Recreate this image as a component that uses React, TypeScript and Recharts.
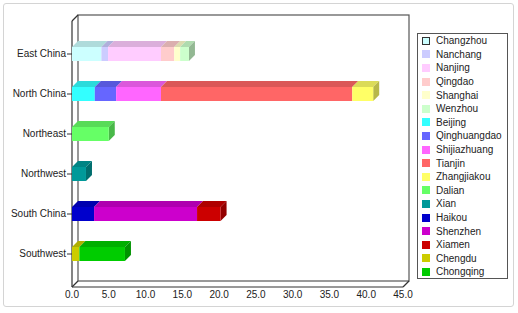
import React from 'react'
import { BarChart, Bar, XAxis, YAxis } from 'recharts'

const regions = ['East China', 'North China', 'Northeast', 'Northwest', 'South China', 'Southwest']

const cities = [
  'Changzhou', 'Nanchang', 'Nanjing', 'Qingdao', 'Shanghai', 'Wenzhou',
  'Beijing', 'Qinghuangdao', 'Shijiazhuang', 'Tianjin', 'Zhangjiakou',
  'Dalian', 'Xian', 'Haikou', 'Shenzhen', 'Xiamen', 'Chengdu', 'Chongqing',
]

// index into regions for each city
const cityRegion = [0, 0, 0, 0, 0, 0, 1, 1, 1, 1, 1, 2, 3, 4, 4, 4, 5, 5]

const cityValues = [4.0, 0.9, 7.2, 1.8, 0.8, 1.2, 3.1, 2.9, 6.1, 26.0, 2.85, 5.0, 1.9, 3.0, 14.0, 3.2, 1.0, 6.2]

const cityColors = [
  '#CCFFFF', '#CCCCFF', '#FFCCFF', '#FFCCCC', '#FFFFCC', '#CCFFCC',
  '#33FFFF', '#6666FF', '#FF66FF', '#FF6666', '#FFFF66',
  '#66FF66', '#009999', '#0000CC', '#CC00CC', '#CC0000', '#CCCC00', '#00CC00',
]

const xTicks = [0, 5, 10, 15, 20, 25, 30, 35, 40, 45]

const data = regions.map((region, ri) => {
  const row: Record<string, string | number> = { region }
  cities.forEach((c, ci) => {
    row[c] = cityRegion[ci] === ri ? cityValues[ci] : 0
  })
  return row
})

// last city of each region gets the visible right side face
const lastOfRegion = regions.map((_, ri) => {
  let last = -1
  cityRegion.forEach((r, ci) => { if (r === ri) last = ci })
  return last
})

const W = 518
const H = 313
const plotLeft = 72
const plotTop = 21
const plotRight = 403
const plotBottom = 287
const depth = 6
const font = '"Liberation Sans", Arial, sans-serif'

function shade(hex: string, k: number) {
  const n = parseInt(hex.slice(1), 16)
  const r = Math.round(((n >> 16) & 255) * k)
  const g = Math.round(((n >> 8) & 255) * k)
  const b = Math.round((n & 255) * k)
  return `rgb(${r},${g},${b})`
}

function make3D(color: string, withSide: boolean) {
  // eslint-disable-next-line @typescript-eslint/no-explicit-any
  return (props: any) => {
    const { x, y, width, height } = props
    if (!width || width <= 0.3) return <g />
    const d = depth
    return (
      <g>
        <polygon
          points={`${x},${y} ${x + d},${y - d} ${x + width + d},${y - d} ${x + width},${y}`}
          fill={shade(color, 0.86)}
        />
        {withSide && (
          <polygon
            points={`${x + width},${y} ${x + width + d},${y - d} ${x + width + d},${y + height - d} ${x + width},${y + height}`}
            fill={shade(color, 0.72)}
          />
        )}
        <rect x={x} y={y} width={width} height={height} fill={color} />
      </g>
    )
  }
}

// eslint-disable-next-line @typescript-eslint/no-explicit-any
function RegionTick(props: any) {
  const { x, y, payload } = props
  return (
    <text x={x} y={y} dy="0.32em" textAnchor="end" fill="#222" fontSize={10} fontFamily={font}>
      {payload.value}
    </text>
  )
}

function Walls() {
  const d = depth
  return (
    <svg width={W} height={H} style={{ position: 'absolute', left: 0, top: 0 }}>
      <rect
        x={plotLeft + d}
        y={plotTop - d}
        width={plotRight - plotLeft}
        height={plotBottom - plotTop}
        fill="#fff"
        stroke="#555"
        strokeWidth={1.2}
      />
      <g stroke="#333" strokeWidth={1.2}>
        <line x1={plotLeft} y1={plotTop} x2={plotLeft} y2={plotBottom} />
        <line x1={plotLeft} y1={plotBottom} x2={plotRight} y2={plotBottom} />
        <line x1={plotLeft} y1={plotTop} x2={plotLeft + d} y2={plotTop - d} />
        <line x1={plotLeft} y1={plotBottom} x2={plotLeft + d} y2={plotBottom - d} />
        <line x1={plotRight} y1={plotBottom} x2={plotRight + d} y2={plotBottom - d} />
      </g>
    </svg>
  )
}

function LegendBox() {
  return (
    <div
      style={{
        position: 'absolute',
        left: 417,
        top: 33,
        width: 91,
        height: 246,
        border: '1px solid #555',
        background: '#fff',
        fontFamily: font,
        fontSize: 10,
        color: '#222',
        boxSizing: 'border-box',
      }}
    >
      {cities.map((c, i) => (
        <div key={c} style={{ display: 'flex', alignItems: 'center', height: 13.6, whiteSpace: 'nowrap' }}>
          <span
            style={{
              display: 'inline-block',
              width: 8,
              height: 8,
              marginLeft: 4,
              marginRight: 6,
              background: cityColors[i],
              border: i === 0 ? '1px solid #333' : 'none',
              boxSizing: 'border-box',
            }}
          />
          <span>{c}</span>
        </div>
      ))}
    </div>
  )
}

export default function App() {
  return (
    <div style={{ position: 'absolute', left: 0, top: 0, width: W, height: H, background: '#fff' }}>
      <div
        style={{
          position: 'absolute',
          left: 3,
          top: 3,
          width: 511,
          height: 304,
          border: '1px solid #d4d4d4',
          borderRadius: 3,
          boxSizing: 'border-box',
        }}
      />
      <Walls />
      <div style={{ position: 'absolute', left: 0, top: 0 }}>
        <BarChart
          width={W}
          height={H}
          data={data}
          layout="vertical"
          margin={{ top: plotTop, right: W - plotRight, bottom: 6, left: 0 }}
          barCategoryGap={0}
        >
          <XAxis
            type="number"
            domain={[0, 45]}
            ticks={xTicks}
            tickFormatter={(v: number) => v.toFixed(1)}
            axisLine={false}
            tickLine={false}
            tickSize={2}
            tickMargin={2}
            height={H - plotBottom - 6}
            tick={{ fill: '#222', fontSize: 10, fontFamily: font }}
            interval={0}
          />
          <YAxis
            type="category"
            dataKey="region"
            width={plotLeft}
            axisLine={false}
            tickSize={5}
            tickMargin={1}
            tickLine={{ stroke: '#333' }}
            padding={{ top: 13, bottom: 13 }}
            tick={<RegionTick />}
            interval={0}
          />
          {cities.map((c, ci) => (
            <Bar
              key={c}
              dataKey={c}
              stackId="a"
              fill={cityColors[ci]}
              barSize={14}
              isAnimationActive={false}
              shape={make3D(cityColors[ci], lastOfRegion[cityRegion[ci]] === ci)}
            />
          ))}
        </BarChart>
      </div>
      <LegendBox />
    </div>
  )
}
